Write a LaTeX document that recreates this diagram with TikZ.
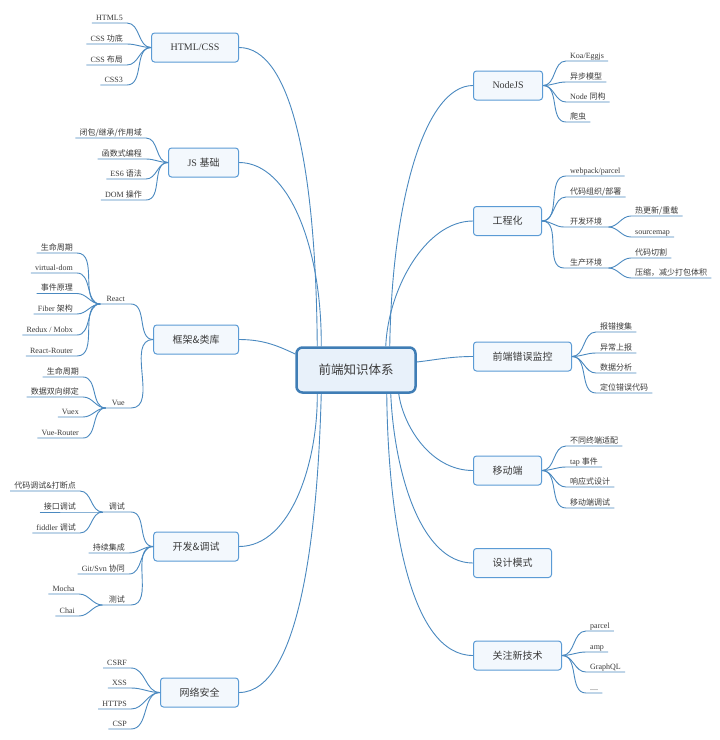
\documentclass[tikz,border=0pt]{standalone}
\usepackage{fontspec}
\setmainfont{Liberation Serif}
\newfontfamily\cjk{Noto Sans CJK SC}
\usetikzlibrary{calc,backgrounds}
\definecolor{lnc}{HTML}{4A89C0}
\definecolor{bdc}{HTML}{5B9BD5}
\definecolor{fillc}{HTML}{F3F8FD}
\definecolor{cfill}{HTML}{E8F1FA}
\definecolor{cbd}{HTML}{3F7DB5}
\definecolor{txt}{HTML}{3A3A3A}
\newcommand\z[1]{{\cjk #1}}
% left item: [style]{name}{x of right end}{y of underline}{junction}{text}
\newcommand\litem[6][sub]{%
  \node[#1, anchor=south east] (#2) at (#3,#4) {#6};
  \draw[ln] (#2.south west) -- (#2.south east) to[out=0,in=180] (#5);}
% right item: [style]{name}{x of left end}{y of underline}{junction}{text}
\newcommand\ritem[6][sub]{%
  \node[#1, anchor=south west] (#2) at (#3,#4) {#6};
  \draw[ln] (#5) to[out=0,in=180] (#2.south west) -- (#2.south east);}
\begin{document}
\begin{tikzpicture}[x=1pt,y=-1pt,
  ln/.style={draw=lnc, line width=0.9pt},
  mainbox/.style={draw=bdc, fill=fillc, line width=1pt, rounded corners=3pt,
    minimum height=29pt, minimum width=68pt, inner xsep=19pt, inner ysep=0pt,
    text=txt, font=\fontsize{10}{12}\selectfont},
  sub/.style={inner xsep=4pt, inner ysep=1pt, text height=6.5pt, text depth=1.5pt,
    text=txt, font=\fontsize{8}{9}\selectfont},
  midsub/.style={sub, inner xsep=6pt}]
\useasboundingbox (0,0) rectangle (720,740);

% central node
\node[draw=cbd, fill=cfill, line width=2.5pt, rounded corners=6pt,
  minimum width=119pt, minimum height=45pt, inner sep=0pt, text=txt,
  font=\fontsize{12.5}{14}\cjk] (c) at (356,370) {前端知识体系};

% main nodes, left
\node[mainbox, anchor=east] (hc) at (239,47.5) {HTML/CSS};
\node[mainbox, anchor=east] (js) at (239,162.5) {JS \z{基础}};
\node[mainbox, anchor=east] (fw) at (239,339.5) {\z{框架\&类库}};
\node[mainbox, anchor=east] (dv) at (239,546.5) {\z{开发\&调试}};
\node[mainbox, anchor=east] (ns) at (239,692.5) {\z{网络安全}};
% main nodes, right
\node[mainbox, anchor=west] (nd) at (473,85.5) {NodeJS};
\node[mainbox, anchor=west] (gc) at (473,221) {\z{工程化}};
\node[mainbox, anchor=west] (er) at (473,356.5) {\z{前端错误监控}};
\node[mainbox, anchor=west] (yd) at (473,470.5) {\z{移动端}};
\node[mainbox, anchor=west] (sj) at (473,563) {\z{设计模式}};
\node[mainbox, anchor=west] (gz) at (473,655.5) {\z{关注新技术}};

% connectors to centre
\begin{scope}[on background layer]
\fill[white] (0,0) rectangle (720,740);
\draw[ln] (hc.east) .. controls (292,47.5) and (316,170) .. ($(c.north west)+(22,0)$);
\draw[ln] (js.east) .. controls (290,162.5) and (322,250) .. ($(c.north west)+(26,0)$);
\draw[ln] (fw.east) .. controls (265,339.5) and (280,347) .. ($(c.west)+(0,-16)$);
\draw[ln] (dv.east) .. controls (292,546.5) and (318,460) .. ($(c.south west)+(22,0)$);
\draw[ln] (ns.east) .. controls (302,692.5) and (318,520) .. ($(c.south west)+(26,0)$);
\draw[ln] (nd.west) .. controls (425,85.5) and (392,200) .. ($(c.north east)+(-27,0)$);
\draw[ln] (gc.west) .. controls (425,221) and (388,290) .. ($(c.north east)+(-31,0)$);
\draw[ln] (er.west) .. controls (450,356.5) and (435,360) .. ($(c.east)+(0,-8)$);
\draw[ln] (yd.west) .. controls (430,470.5) and (403,425) .. ($(c.south east)+(-18,0)$);
\draw[ln] (sj.west) .. controls (420,563) and (394,470) .. ($(c.south east)+(-26,0)$);
\draw[ln] (gz.west) .. controls (410,655.5) and (388,520) .. ($(c.south east)+(-30,0)$);
\end{scope}

% HTML/CSS
\litem{h1}{127}{23}{hc.west}{HTML5}
\litem{h2}{127}{44}{hc.west}{CSS \z{功底}}
\litem{h3}{127}{65}{hc.west}{CSS \z{布局}}
\litem{h4}{127}{85}{hc.west}{CSS3}
% JS
\litem{j1}{146}{138}{js.west}{\z{闭包/继承/作用域}}
\litem{j2}{146}{159}{js.west}{\z{函数式编程}}
\litem{j3}{146}{179}{js.west}{ES6 \z{语法}}
\litem{j4}{146}{200}{js.west}{DOM \z{操作}}
% frameworks
\litem[midsub]{react}{131}{304}{fw.west}{React}
\litem[midsub]{vue}{131}{408}{fw.west}{Vue}
\litem{r1}{77}{253}{react.south west}{\z{生命周期}}
\litem{r2}{77}{273}{react.south west}{virtual-dom}
\litem{r3}{77}{293.5}{react.south west}{\z{事件原理}}
\litem{r4}{77}{314}{react.south west}{Fiber \z{架构}}
\litem{r5}{77}{335}{react.south west}{Redux / Mobx}
\litem{r6}{77}{356}{react.south west}{React-Router}
\litem{v1}{83}{377}{vue.south west}{\z{生命周期}}
\litem{v2}{83}{397}{vue.south west}{\z{数据双向绑定}}
\litem{v3}{83}{417}{vue.south west}{Vuex}
\litem{v4}{83}{438}{vue.south west}{Vue-Router}
% dev & debug
\litem[midsub]{ts}{131}{512}{dv.west}{\z{调试}}
\litem{d2}{129}{553}{dv.west}{\z{持续集成}}
\litem{d3}{129}{574}{dv.west}{Git/Svn \z{协同}}
\litem[midsub]{cs}{131}{605}{dv.west}{\z{测试}}
\litem{t1}{80}{491}{ts.south west}{\z{代码调试\&打断点}}
\litem{t2}{80}{512}{ts.south west}{\z{接口调试}}
\litem{t3}{80}{533}{ts.south west}{fiddler \z{调试}}
\litem{m1}{79}{594}{cs.south west}{Mocha}
\litem{m2}{79}{616}{cs.south west}{Chai}
% security
\litem{s1}{131}{668}{ns.west}{CSRF}
\litem{s2}{131}{688}{ns.west}{XSS}
\litem{s3}{131}{709}{ns.west}{HTTPS}
\litem{s4}{131}{729}{ns.west}{CSP}

% NodeJS
\ritem{n1}{566}{61}{nd.east}{Koa/Eggjs}
\ritem{n2}{566}{82}{nd.east}{\z{异步模型}}
\ritem{n3}{566}{102}{nd.east}{Node \z{同构}}
\ritem{n4}{566}{122}{nd.east}{\z{爬虫}}
% engineering
\ritem{g1}{566}{176}{gc.east}{webpack/parcel}
\ritem{g2}{566}{197}{gc.east}{\z{代码组织/部署}}
\ritem[midsub]{kf}{564}{227}{gc.east}{\z{开发环境}}
\ritem[midsub]{sc}{564}{268}{gc.east}{\z{生产环境}}
\ritem{k1}{631}{216}{kf.south east}{\z{热更新/重载}}
\ritem{k2}{631}{237}{kf.south east}{sourcemap}
\ritem{p1}{631}{258}{sc.south east}{\z{代码切割}}
\ritem{p2}{631}{278}{sc.south east}{\z{压缩，减少打包体积}}
% error monitoring
\ritem{e1}{596}{332}{er.east}{\z{报错搜集}}
\ritem{e2}{596}{353}{er.east}{\z{异常上报}}
\ritem{e3}{596}{373}{er.east}{\z{数据分析}}
\ritem{e4}{596}{393}{er.east}{\z{定位错误代码}}
% mobile
\ritem{y1}{566}{446}{yd.east}{\z{不同终端适配}}
\ritem{y2}{566}{467}{yd.east}{tap \z{事件}}
\ritem{y3}{566}{487}{yd.east}{\z{响应式设计}}
\ritem{y4}{566}{508}{yd.east}{\z{移动端调试}}
% new tech
\ritem{x1}{586}{631}{gz.east}{parcel}
\ritem{x2}{586}{652}{gz.east}{amp}
\ritem{x3}{586}{672}{gz.east}{GraphQL}
\ritem{x4}{586}{693}{gz.east}{....}
\end{tikzpicture}
\end{document}
